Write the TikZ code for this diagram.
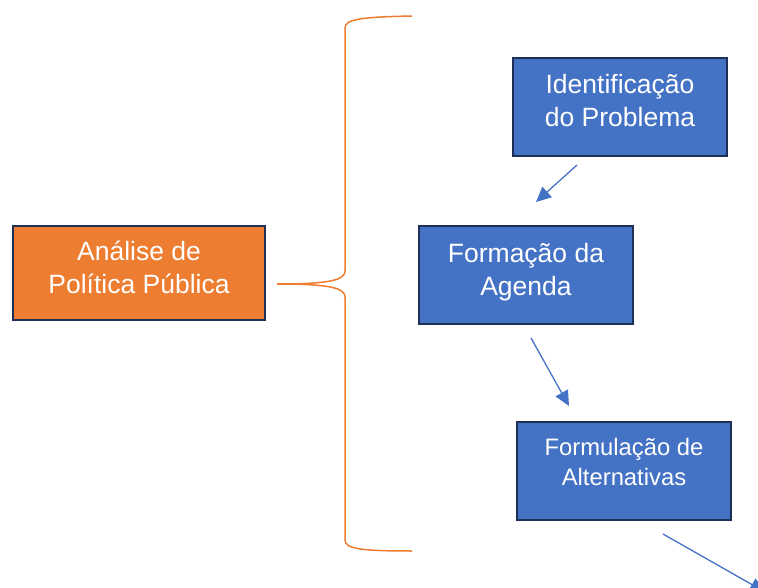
\documentclass[tikz,border=0pt]{standalone}
\usepackage{fontspec}
\setmainfont{Liberation Sans}
\usetikzlibrary{arrows.meta}
\definecolor{orangefill}{HTML}{ED7D31}
\definecolor{bluefill}{HTML}{4472C4}
\definecolor{navy}{HTML}{1F3057}
\newcommand{\boxtext}[2]{\raisebox{0pt}[\height][\dimexpr\depth+#1\relax]{\begin{tabular}{@{}c@{}}#2\end{tabular}}}
\tikzset{
  box/.style={draw=navy, line width=2pt, text=white, align=center, minimum width=214pt, minimum height=98pt, inner sep=0pt},
  bigtext/.style={font=\fontsize{26.5}{33}\selectfont},
  smalltext/.style={font=\fontsize{23.8}{30}\selectfont},
  flow/.style={draw=bluefill, line width=1.3pt, -{Triangle[length=15pt,width=14pt]}},
  brace/.style={draw=orangefill, line width=1.5pt}
}
\begin{document}
\begin{tikzpicture}[x=1pt,y=-1pt]
\useasboundingbox (0,0) rectangle (758,588);
\clip (0,0) rectangle (758,588);
\node[box, bigtext, fill=orangefill, minimum width=252pt, minimum height=94pt] (analise) at (139,273) {\boxtext{5pt}{Análise de\\Política Pública}};
\node[box, bigtext, fill=bluefill] (ident) at (620,107) {\boxtext{7pt}{Identificação\\do Problema}};
\node[box, bigtext, fill=bluefill] (agenda) at (526,275) {\boxtext{6pt}{Formação da\\Agenda}};
\node[box, smalltext, fill=bluefill] (formul) at (624,471) {\boxtext{13pt}{Formulação de\\Alternativas}};
% brace
\coordinate (tip) at (277,284);
\coordinate (btop) at (412,16);
\coordinate (bbot) at (412,551);
\draw[brace] (btop) .. controls (362,17) and (345,19) .. (345,28) -- (345,271)
  .. controls (345,280) and (330,284) .. (tip)
  .. controls (330,284) and (345,288) .. (345,297) -- (345,540)
  .. controls (345,549) and (362,551) .. (bbot);
% arrows
\coordinate (a1s) at (577,165);
\coordinate (a1e) at (536,202);
\coordinate (a2s) at (531,338);
\coordinate (a2e) at (569,406);
\coordinate (a3s) at (663,534);
\coordinate (a3e) at (765,592);
\draw[flow] (a1s) -- (a1e);
\draw[flow] (a2s) -- (a2e);
\draw[flow] (a3s) -- (a3e);
\end{tikzpicture}
\end{document}
